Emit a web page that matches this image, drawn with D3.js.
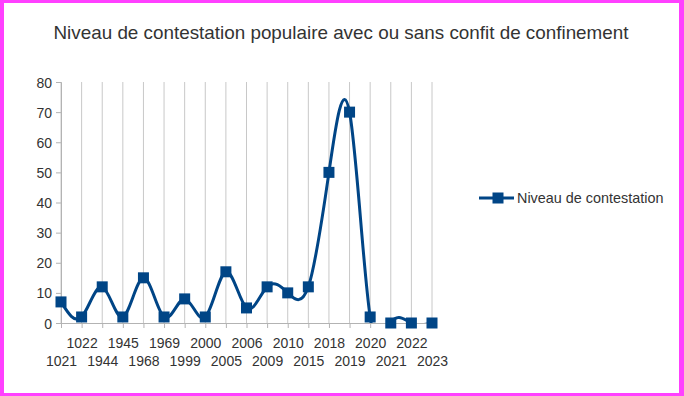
<!DOCTYPE html>
<html><head><meta charset="utf-8">
<script src="https://cdn.jsdelivr.net/npm/d3@7"></script>
<style>body{margin:0;padding:0;background:#fff;} svg{display:block;}</style>
</head><body>
<script>
const categories = ["1021","1022","1944","1945","1968","1969","1999","2000","2005","2006","2009","2010","2015","2018","2019","2020","2021","2022","2023"];
const values = [7,2,12,2,15,2,8,2,17,5,12,10,12,50,70,2,0,0,0];
const yTicks = [0,10,20,30,40,50,60,70,80];
const seriesName = "Niveau de contestation";
const title = "Niveau de contestation populaire avec ou sans confit de confinement";

const W = 684, H = 396;
const svg = d3.select("body").append("svg").attr("width", W).attr("height", H);
svg.append("rect").attr("width", W).attr("height", H).attr("fill", "#ff40ff");
svg.append("rect").attr("x", 4).attr("y", 3).attr("width", 675).attr("height", 390).attr("fill", "#fff");

const font = "'Liberation Sans', Arial, sans-serif";
const txt = "#333333";

svg.append("text").attr("x", 341).attr("y", 39).attr("text-anchor", "middle")
  .attr("font-family", font).attr("font-size", 18.5).attr("fill", txt)
  .attr("textLength", 575).attr("lengthAdjust", "spacingAndGlyphs").text(title);

const x = d3.scalePoint().domain(categories).range([61, 432]);
const y = d3.scaleLinear().domain([0, 80]).range([323, 82]);

// gridlines vertical
svg.append("g").selectAll("line").data(categories).join("line")
  .attr("x1", d => x(d)).attr("x2", d => x(d)).attr("y1", 82).attr("y2", 323)
  .attr("stroke", "#c8c8c8").attr("stroke-width", 1);

// y axis
const yAxis = svg.append("g").attr("transform", "translate(61,0)")
  .call(d3.axisLeft(y).tickValues(yTicks).tickSize(5).tickPadding(4));
yAxis.select(".domain").attr("stroke", "#b3b3b3");
yAxis.selectAll(".tick line").attr("stroke", "#b3b3b3");
yAxis.selectAll(".tick text").attr("font-family", font).attr("font-size", 14).attr("fill", txt)
  .attr("dy", "0.36em");

// x axis
const xAxis = svg.append("g").attr("transform", "translate(0,323)")
  .call(d3.axisBottom(x).tickSize(5).tickSizeOuter(0).tickPadding(4));
xAxis.select(".domain").attr("stroke", "#b3b3b3");
xAxis.selectAll(".tick line").attr("stroke", "#b3b3b3");
xAxis.selectAll(".tick text").attr("font-family", font).attr("font-size", 14).attr("fill", txt)
  .attr("dy", null)
  .attr("y", (d, i) => i % 2 === 0 ? 42.5 : 24.5);

// clip for the spline
svg.append("clipPath").attr("id", "plotclip").append("rect")
  .attr("x", 61).attr("y", 82).attr("width", 371).attr("height", 241);

const line = d3.line().x((d, i) => x(categories[i])).y(d => y(d)).curve(d3.curveNatural);
svg.append("path").datum(values).attr("d", line).attr("fill", "none")
  .attr("clip-path", "url(#plotclip)")
  .attr("stroke", "#004586").attr("stroke-width", 3).attr("stroke-linejoin", "round");

svg.append("g").selectAll("rect").data(values).join("rect")
  .attr("x", (d, i) => x(categories[i]) - 5.5).attr("y", d => y(d) - 5.5)
  .attr("width", 11).attr("height", 11).attr("fill", "#004586");

// legend
const lg = svg.append("g");
lg.append("line").attr("x1", 479).attr("x2", 514).attr("y1", 198).attr("y2", 198)
  .attr("stroke", "#004586").attr("stroke-width", 3);
lg.append("rect").attr("x", 492.5).attr("y", 192.5).attr("width", 11).attr("height", 11).attr("fill", "#004586");
lg.append("text").attr("x", 517).attr("y", 203).attr("font-family", font).attr("font-size", 14.4)
  .attr("fill", txt).text(seriesName);
</script>
</body></html>
